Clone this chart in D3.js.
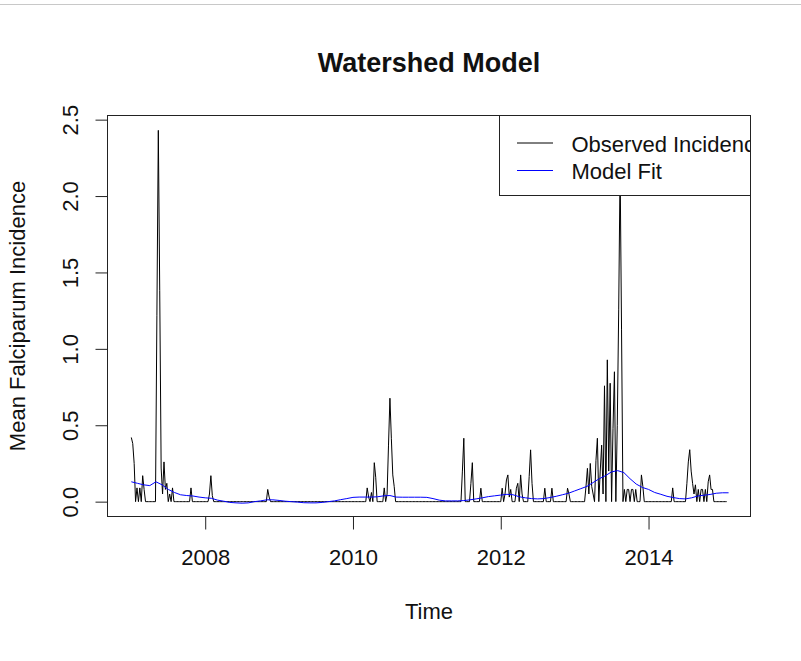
<!DOCTYPE html>
<html>
<head>
<meta charset="utf-8">
<script src="https://cdn.jsdelivr.net/npm/d3@7"></script>
<style>
  body { margin: 0; background: #fff; }
  text { font-family: "Liberation Sans", Arial, sans-serif; fill: #111; }
</style>
</head>
<body>
<svg id="chart" width="801" height="661"></svg>
<script>
// weekly series, starts 2007 week 1
const startYear = 2007;
const weeksPerYear = 52;

// observed mean falciparum incidence, one row of 13 weeks per line
const incidence = [
  // 2007
  0.42,0.38,0.25,0,0.09,0,0.09,0,0.17,0.08,0,0,0,
  0,0,0,0,0,1.22,2.43,1.38,0.22,0.05,0.26,0.08,0.12,
  0,0.05,0,0.09,0,0,0,0,0,0,0,0,0,
  0,0,0,0.09,0,0,0,0,0,0,0,0,0,
  // 2008
  0,0,0,0.05,0.17,0.04,0,0,0,0,0,0,0,
  0,0,0,0,0,0,0,0,0,0,0,0,0,
  0,0,0,0,0,0,0,0,0,0,0,0,0,
  0,0,0,0,0,0.08,0.03,0,0,0,0,0,0,
  // 2009
  0,0,0,0,0,0,0,0,0,0,0,0,0,
  0,0,0,0,0,0,0,0,0,0,0,0,0,
  0,0,0,0,0,0,0,0,0,0,0,0,0,
  0,0,0,0,0,0,0,0,0,0,0,0,0,
  // 2010
  0,0,0,0,0,0,0,0,0,0,0.09,0.03,0,
  0.06,0,0.255,0.16,0,0,0,0,0,0.09,0,0.05,0.37,
  0.677,0.415,0.175,0.1,0,0,0,0,0,0,0,0,0,
  0,0,0,0,0,0,0,0,0,0,0,0,0,
  // 2011
  0,0,0,0,0,0,0,0,0,0,0,0,0,
  0,0,0,0,0,0,0,0,0,0,0,0,0.2,
  0.415,0,0,0,0,0.12,0.255,0,0,0,0,0,0.088,
  0,0,0,0,0,0,0,0,0,0,0,0,0,
  // 2012
  0,0.088,0,0.05,0.142,0.175,0.03,0.08,0,0,0,0.088,0.12,
  0,0.175,0.05,0,0,0,0,0.164,0.339,0.12,0,0,0,
  0,0,0,0,0,0.088,0,0,0,0,0.088,0,0,
  0,0,0,0,0,0,0,0,0.088,0.05,0,0,0,
  // 2013
  0,0,0,0,0,0,0,0,0.1,0.218,0.05,0.25,0.1,
  0.05,0,0.27,0.415,0,0.2,0.37,0.05,0.758,0,0.928,0.2,0.775,
  0,0.48,0.85,0,0.5,1.255,2.2,1.124,0,0.08,0,0.08,0.08,
  0,0.08,0.08,0,0.08,0,0,0,0.175,0.1,0,0,0,
  // 2014
  0,0,0,0,0,0,0,0,0,0,0,0,0,
  0,0,0,0,0.09,0,0,0,0,0,0,0,0,
  0,0.12,0.26,0.34,0.2,0.12,0.05,0.11,0,0.08,0,0.08,0.08,
  0,0.08,0,0.13,0.175,0.08,0.08,0,0,0,0,0,0,
  // 2015
  0,0,0,0
];

// model fit, read monthly from 2007
const fitStart = 2007;
const fitPerYear = 12;
const modelFit = [
  0.13,0.12,0.11,0.105,0.13,0.11,0.08,0.06,0.045,0.04,0.037,0.03,
  0.025,0.022,0.01,0.003,-0.005,-0.008,-0.01,-0.008,0,0.005,0.012,0.012,
  0.008,0.003,0,-0.003,-0.007,-0.008,-0.008,-0.005,0,0.005,0.013,0.02,
  0.028,0.03,0.03,0.03,0.032,0.038,0.04,0.03,0.029,0.029,0.029,0.029,
  0.028,0.02,0.01,0.005,0.005,0.005,0.007,0.012,0.018,0.025,0.033,0.038,
  0.043,0.048,0.045,0.032,0.025,0.02,0.018,0.02,0.027,0.035,0.045,0.055,
  0.07,0.085,0.1,0.125,0.15,0.17,0.195,0.203,0.19,0.15,0.115,0.093,
  0.08,0.06,0.048,0.035,0.027,0.02,0.018,0.025,0.037,0.042,0.047,0.055,
  0.058,0.058
];

const xTicks = [2008, 2010, 2012, 2014];
const yTicks = [0, 0.5, 1, 1.5, 2, 2.5];
const legendLabels = ["Observed Incidence", "Model Fit"];
const seriesColors = ["#000", "blue"];

const svg = d3.select('#chart');
const box = { left: 107.5, right: 750.5, top: 115.5, bottom: 516.5 };

// thin frame line at top of the viewer
svg.append("line").attr("x1", 0).attr("x2", 801).attr("y1", 4.5).attr("y2", 4.5)
  .attr("stroke", "#c8c8c8").attr("stroke-width", 1);

const obs = incidence.map((v, i) => ({ t: startYear + i / weeksPerYear, v: v }));
const fit = modelFit.map((v, i) => ({ t: fitStart + i / fitPerYear, v: v }));

// R style 4% padding around the observed data
const pad = (ext) => {
  const r = ext[1] - ext[0];
  return [ext[0] - 0.04 * r, ext[1] + 0.04 * r];
};

const xScale = d3.scaleLinear().domain(pad(d3.extent(obs, d => d.t))).range([box.left, box.right]);
const yScale = d3.scaleLinear().domain(pad(d3.extent(obs, d => d.v))).range([box.bottom, box.top]);

const line = d3.line().x(d => xScale(d.t)).y(d => yScale(d.v));

svg.append("defs").append("clipPath").attr("id", "plotClip")
  .append("rect").attr("x", box.left).attr("y", box.top)
  .attr("width", box.right - box.left).attr("height", box.bottom - box.top);

const plot = svg.append("g").attr("clip-path", "url(#plotClip)");

plot.append("path").datum(obs).attr("fill", "none").attr("stroke", seriesColors[0])
  .attr("stroke-width", 1).attr("d", line);

plot.append("path").datum(fit).attr("fill", "none").attr("stroke", seriesColors[1])
  .attr("stroke-width", 1).attr("d", line);

// x axis
const xAxisG = svg.append("g").attr("transform", "translate(0," + box.bottom + ")")
  .call(d3.axisBottom(xScale).tickValues(xTicks).tickSize(13).tickFormat(d3.format("d")));
xAxisG.select(".domain").remove();
xAxisG.selectAll(".tick line").attr("stroke", "#222");
xAxisG.selectAll(".tick text").attr("y", 48.5).attr("dy", null)
  .attr("font-size", 22).attr("fill", "#111").style("font-family", '"Liberation Sans", Arial, sans-serif');

// y axis
const yAxisG = svg.append("g").attr("transform", "translate(" + box.left + ",0)")
  .call(d3.axisLeft(yScale).tickValues(yTicks).tickSize(12).tickFormat(d3.format(".1f")));
yAxisG.select(".domain").remove();
yAxisG.selectAll(".tick line").attr("stroke", "#222");
yAxisG.selectAll(".tick text").attr("x", null).attr("dy", null)
  .attr("text-anchor", "middle")
  .attr("transform", "translate(-30,0) rotate(-90)")
  .attr("font-size", 22).attr("fill", "#111").style("font-family", '"Liberation Sans", Arial, sans-serif');

// frame
svg.append("rect").attr("x", box.left).attr("y", box.top)
  .attr("width", box.right - box.left).attr("height", box.bottom - box.top)
  .attr("fill", "none").attr("stroke", "#222").attr("stroke-width", 1);

// titles
const midX = (box.left + box.right) / 2;
svg.append("text").attr("x", midX).attr("y", 72).attr("text-anchor", "middle")
  .attr("font-size", 27).attr("font-weight", "bold").text("Watershed Model");
svg.append("text").attr("x", midX).attr("y", 619).attr("text-anchor", "middle")
  .attr("font-size", 22).text("Time");
svg.append("text").attr("transform", "translate(25," + ((box.top + box.bottom) / 2) + ") rotate(-90)")
  .attr("text-anchor", "middle").attr("font-size", 22).text("Mean Falciparum Incidence");

// legend, cut off at the right edge like the original
svg.append("defs").append("clipPath").attr("id", "legendClip")
  .append("rect").attr("x", 0).attr("y", 0).attr("width", box.right + 0.5).attr("height", 661);

const legend = svg.append("g").attr("clip-path", "url(#legendClip)");
legend.append("rect").attr("x", 499.5).attr("y", box.top).attr("width", 300).attr("height", 80)
  .attr("fill", "#fff").attr("stroke", "#222").attr("stroke-width", 1);

legendLabels.forEach((label, i) => {
  const ly = 143 + i * 27.5;
  legend.append("line").attr("x1", 517).attr("x2", 553).attr("y1", ly).attr("y2", ly)
    .attr("stroke", seriesColors[i]).attr("stroke-width", 1);
  legend.append("text").attr("x", 571.5).attr("y", ly + 8.5).attr("font-size", 22).text(label);
});

// redraw right frame edge over the legend
svg.append("line").attr("x1", box.right).attr("x2", box.right).attr("y1", box.top).attr("y2", box.bottom)
  .attr("stroke", "#222").attr("stroke-width", 1);
</script>
</body>
</html>
